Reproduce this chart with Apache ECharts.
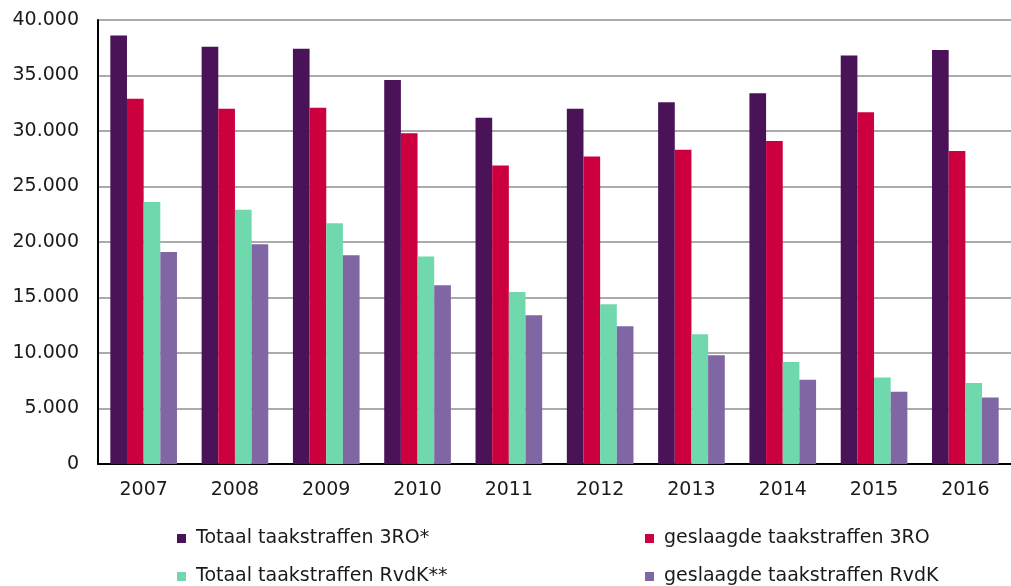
<!DOCTYPE html>
<html>
<head>
<meta charset="utf-8">
<script src="https://cdn.jsdelivr.net/npm/echarts@6/dist/echarts.min.js"></script>
<style>
html,body{margin:0;padding:0;background:#fff;}
#chart{width:1011px;height:586px;}
</style>
</head>
<body>
<div id="chart"></div>
<script>
var years = ['2007','2008','2009','2010','2011','2012','2013','2014','2015','2016'];
var totaal3RO = [38600, 37600, 37400, 34600, 31200, 32000, 32600, 33400, 36800, 37300];
var geslaagd3RO = [32900, 32000, 32100, 29800, 26900, 27700, 28300, 29100, 31700, 28200];
var totaalRvdK = [23600, 22900, 21700, 18700, 15500, 14400, 11700, 9200, 7800, 7300];
var geslaagdRvdK = [19100, 19800, 18800, 16100, 13400, 12400, 9800, 7600, 6500, 6000];
var seriesNames = ['Totaal taakstraffen 3RO*', 'geslaagde taakstraffen 3RO', 'Totaal taakstraffen RvdK**', 'geslaagde taakstraffen RvdK'];
var colors = ['#4a1358', '#cc003f', '#6fd9ad', '#8066a3'];
var seriesData = [totaal3RO, geslaagd3RO, totaalRvdK, geslaagdRvdK];

var font = 'DejaVu Sans';
var chart = echarts.init(document.getElementById('chart'), null, {renderer: 'canvas'});

var legendPos = [
  {left: 177, top: 529},
  {left: 645, top: 529},
  {left: 177, top: 567},
  {left: 645, top: 567}
];
var legends = seriesNames.map(function (n, i) {
  return {
    data: [n],
    left: legendPos[i].left,
    top: legendPos[i].top,
    padding: 0,
    itemWidth: 9,
    itemHeight: 9,
    itemGap: 0,
    icon: 'rect',
    selectedMode: false,
    textStyle: {fontFamily: font, fontSize: 19, color: '#1a1a1a', padding: [0, 0, 0, 5]}
  };
});

chart.setOption({
  animation: false,
  color: colors,
  legend: legends,
  grid: {left: 98, top: 20, bottom: 122, right: -7, containLabel: false},
  xAxis: {
    type: 'category',
    data: years,
    axisLine: {lineStyle: {color: '#000', width: 2}},
    axisTick: {show: false},
    axisLabel: {fontFamily: font, fontSize: 19, color: '#1a1a1a', margin: 17}
  },
  yAxis: {
    type: 'value',
    min: 0,
    max: 40000,
    interval: 5000,
    axisLine: {show: true, lineStyle: {color: '#000', width: 2}},
    axisTick: {show: false},
    splitLine: {lineStyle: {color: '#ababab', width: 2}},
    axisLabel: {
      fontFamily: font, fontSize: 19, color: '#1a1a1a', margin: 19,
      formatter: function (v) {
        return v === 0 ? '0' : String(v).replace(/\B(?=(\d{3})+(?!\d))/g, '.');
      }
    }
  },
  series: seriesData.map(function (d, i) {
    return {
      name: seriesNames[i],
      type: 'bar',
      data: d,
      barGap: '0%',
      barCategoryGap: '27%',
      itemStyle: {color: colors[i]}
    };
  })
});
</script>
</body>
</html>
